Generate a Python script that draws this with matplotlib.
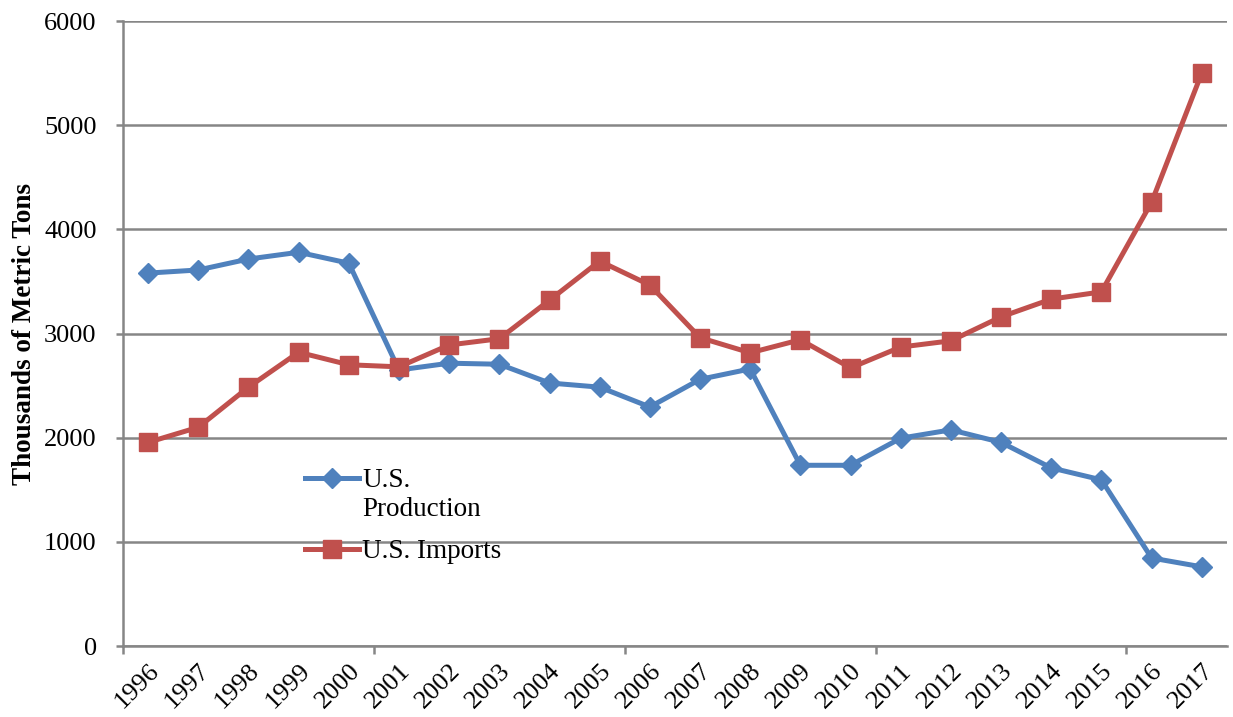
import numpy as np
import matplotlib
matplotlib.use("Agg")
import matplotlib.pyplot as plt
from matplotlib.ticker import FixedLocator

# Data (thousands of metric tons)
years = [str(y) for y in range(1996, 2018)]
production = [3580, 3610, 3715, 3780, 3675, 2650, 2715, 2705, 2525, 2485,
              2295, 2560, 2660, 1735, 1735, 1995, 2075, 1955, 1710, 1595,
              845, 760]
imports = [1955, 2100, 2485, 2820, 2700, 2680, 2890, 2950, 3320, 3695,
           3465, 2960, 2815, 2940, 2670, 2870, 2930, 3160, 3330, 3400,
           4260, 5500]
yticks = [0, 1000, 2000, 3000, 4000, 5000, 6000]

BLUE = "#4F81BD"
RED = "#C0504D"
GRID = "#868686"

plt.rcParams["font.family"] = ["Liberation Serif", "DejaVu Serif"]

fig = plt.figure(figsize=(12.33, 7.17), dpi=100)
ax = fig.add_axes([0.0998, 0.099, 0.8952, 0.8717])

x = np.arange(len(years))
ax.plot(x, production, color=BLUE, lw=3.6, marker="D", ms=10,
        label="U.S.\nProduction", zorder=3)
ax.plot(x, imports, color=RED, lw=3.6, marker="s", ms=13,
        label="U.S. Imports", zorder=3)

ax.set_xlim(-0.5, len(years) - 0.5)
ax.set_ylim(0, 6000)

# y axis
ax.set_yticks(yticks)
ax.yaxis.grid(True, color=GRID, lw=1.8)
ax.set_axisbelow(True)
ax.tick_params(axis="y", length=5, width=1.8, color=GRID, labelsize=19, pad=14)
ax.set_ylabel("Thousands of Metric Tons", fontsize=19.5, fontweight="bold",
              labelpad=5)

# x axis: labels at the categories, tick marks every 5 boundaries
ax.set_xticks(x)
ax.set_xticklabels(years, rotation=45, ha="right", va="top",
                   rotation_mode="anchor")
ax.tick_params(axis="x", which="major", length=0, labelsize=19, pad=10)
ax.xaxis.set_minor_locator(FixedLocator(np.arange(-0.5, len(years), 5)))
ax.tick_params(axis="x", which="minor", length=6, width=1.8, color=GRID)

for side in ["top", "right"]:
    ax.spines[side].set_visible(False)
for side in ["left", "bottom"]:
    ax.spines[side].set_color(GRID)
    ax.spines[side].set_linewidth(1.8)

leg = ax.legend(loc="upper left", bbox_to_anchor=(0.165, 0.285), frameon=False,
                fontsize=19.5, handlelength=2.0, handletextpad=0.1,
                labelspacing=0.65, borderpad=0, borderaxespad=0)
# put the production handle next to the first text line, as in the original
h = leg.legend_handles[0]
h.set_ydata(np.asarray(h.get_ydata()) + 12)

fig.savefig("out.png", dpi=100)
